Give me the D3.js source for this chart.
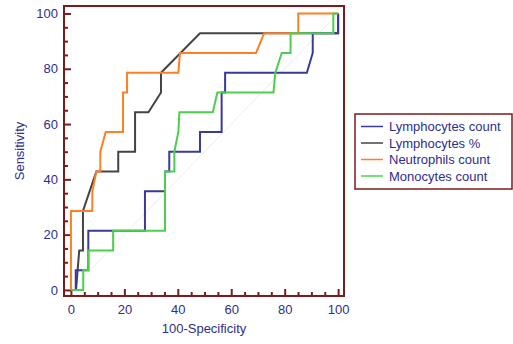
<!DOCTYPE html>
<html>
<head>
<meta charset="utf-8">
<script src="https://cdn.jsdelivr.net/npm/d3@7"></script>
<style>
html,body{margin:0;padding:0;background:#fff;}
svg{display:block;font-family:"Liberation Sans",Arial,sans-serif;}
</style>
</head>
<body>
<svg id="chart" width="513" height="344"></svg>
<script>
// ---- data (100-Specificity, Sensitivity) ----
const seriesNames = ["Lymphocytes count", "Lymphocytes %", "Neutrophils count", "Monocytes count"];
const seriesColors = ["#3a3a9c", "#444444", "#ff7f24", "#4ccf4c"];

const lymphocytesCount = [[0,0],[1.8,0],[1.8,7.14],[6.5,7.14],[6.5,21.43],[27.7,21.43],[27.7,35.71],[35.2,35.71],[35.2,42.86],[36.8,42.86],[36.8,50],[48.3,50],[48.3,57.14],[56.4,57.14],[56.4,71.43],[57.7,71.43],[57.7,78.57],[88.3,78.57],[90.5,85.71],[90.5,92.86],[100,92.86],[100,100]];
const lymphocytesPct = [[0,0],[1.9,0],[3.1,14.29],[4.5,14.29],[4.5,28.57],[9.5,42.86],[17.7,42.86],[17.7,50],[24,50],[24,64.29],[29,64.29],[33.7,71.43],[33.7,78.57],[48.3,92.86],[100,92.86],[100,100]];
const neutrophilsCount = [[0,0],[0,28.57],[8,28.57],[8,35.71],[9.5,42.86],[11,42.86],[11,50],[13,57.14],[19.5,57.14],[19.5,71.43],[21,71.43],[21,78.57],[40.2,78.57],[40.8,85.71],[69.3,85.71],[72.3,92.86],[85.1,92.86],[85.1,100],[100,100]];
const monocytesCount = [[0,0],[4.6,0],[4.6,7.14],[6.5,7.14],[6.5,14.29],[15.8,14.29],[15.8,21.43],[35.2,21.43],[35.2,42.86],[38.7,42.86],[38.7,50],[40.2,57.14],[40.6,64.29],[53.1,64.29],[54.8,71.43],[75.8,71.43],[76.5,78.57],[78.9,85.71],[82.2,85.71],[82.2,92.86],[98.2,92.86],[98.2,100],[100,100]];
const seriesData = [lymphocytesCount, lymphocytesPct, neutrophilsCount, monocytesCount];
const drawOrder = [1, 0, 2, 3];

const majorTicks = [0, 20, 40, 60, 80, 100];
const minorTicks = [5,10,15,25,30,35,45,50,55,65,70,75,85,90,95];
const xTitle = "100-Specificity";
const yTitle = "Sensitivity";

// ---- drawing ----
const svg = d3.select("#chart");
const frameCol = "#7a1c1c";
const textCol = "#2e2e8c";

const x = d3.scaleLinear().domain([-2.6, 102.2]).range([64, 344]);
const y = d3.scaleLinear().domain([-2.2, 102.7]).range([296, 6]);

// diagonal reference
svg.append("line")
  .attr("x1", x(0)).attr("y1", y(0)).attr("x2", x(100)).attr("y2", y(100))
  .attr("stroke", "#ececec").attr("stroke-width", 1);

// axes
function styleAxis(g) {
  g.select(".domain").remove();
  g.selectAll(".tick line").attr("stroke", frameCol).attr("stroke-width", 2);
  g.selectAll(".tick text").attr("fill", textCol).attr("font-size", 13)
    .attr("font-family", "Liberation Sans, Arial, sans-serif");
}
svg.append("g").attr("transform", "translate(0,296)")
  .call(d3.axisBottom(x).tickValues(majorTicks).tickSize(-7).tickPadding(9).tickFormat(d3.format("d")))
  .call(styleAxis);
svg.append("g").attr("transform", "translate(0,296)")
  .call(d3.axisBottom(x).tickValues(minorTicks).tickSize(-4).tickFormat(""))
  .call(styleAxis);
svg.append("g").attr("transform", "translate(64,0)")
  .call(d3.axisLeft(y).tickValues(majorTicks).tickSize(-7).tickPadding(6).tickFormat(d3.format("d")))
  .call(styleAxis);
svg.append("g").attr("transform", "translate(64,0)")
  .call(d3.axisLeft(y).tickValues(minorTicks).tickSize(-4).tickFormat(""))
  .call(styleAxis);

// lines
const line = d3.line().x(d => x(d[0])).y(d => y(d[1]));
drawOrder.forEach(i => {
  svg.append("path").datum(seriesData[i])
    .attr("d", line)
    .attr("fill", "none")
    .attr("stroke", seriesColors[i])
    .attr("stroke-width", 2)
    .attr("stroke-linejoin", "miter");
});

// frame
svg.append("rect")
  .attr("x", 64).attr("y", 6).attr("width", 280).attr("height", 290)
  .attr("fill", "none").attr("stroke", frameCol).attr("stroke-width", 2);

// axis titles
svg.append("text").attr("x", 204).attr("y", 333).attr("text-anchor", "middle")
  .attr("fill", textCol).attr("font-size", 13).text(xTitle);
svg.append("text").attr("transform", "translate(24,151) rotate(-90)")
  .attr("text-anchor", "middle").attr("fill", textCol).attr("font-size", 13).text(yTitle);

// legend
const lg = svg.append("g");
lg.append("rect").attr("x", 355).attr("y", 114).attr("width", 157).attr("height", 75)
  .attr("fill", "#fff").attr("stroke", frameCol).attr("stroke-width", 1.5);
seriesNames.forEach((n, i) => {
  const cy = 126.5 + i * 16.5;
  lg.append("line").attr("x1", 361).attr("x2", 383).attr("y1", cy).attr("y2", cy)
    .attr("stroke", seriesColors[i]).attr("stroke-width", 1.5);
  lg.append("text").attr("x", 389).attr("y", cy).attr("dy", "0.35em")
    .attr("fill", textCol).attr("font-size", 13).text(n);
});
</script>
</body>
</html>
